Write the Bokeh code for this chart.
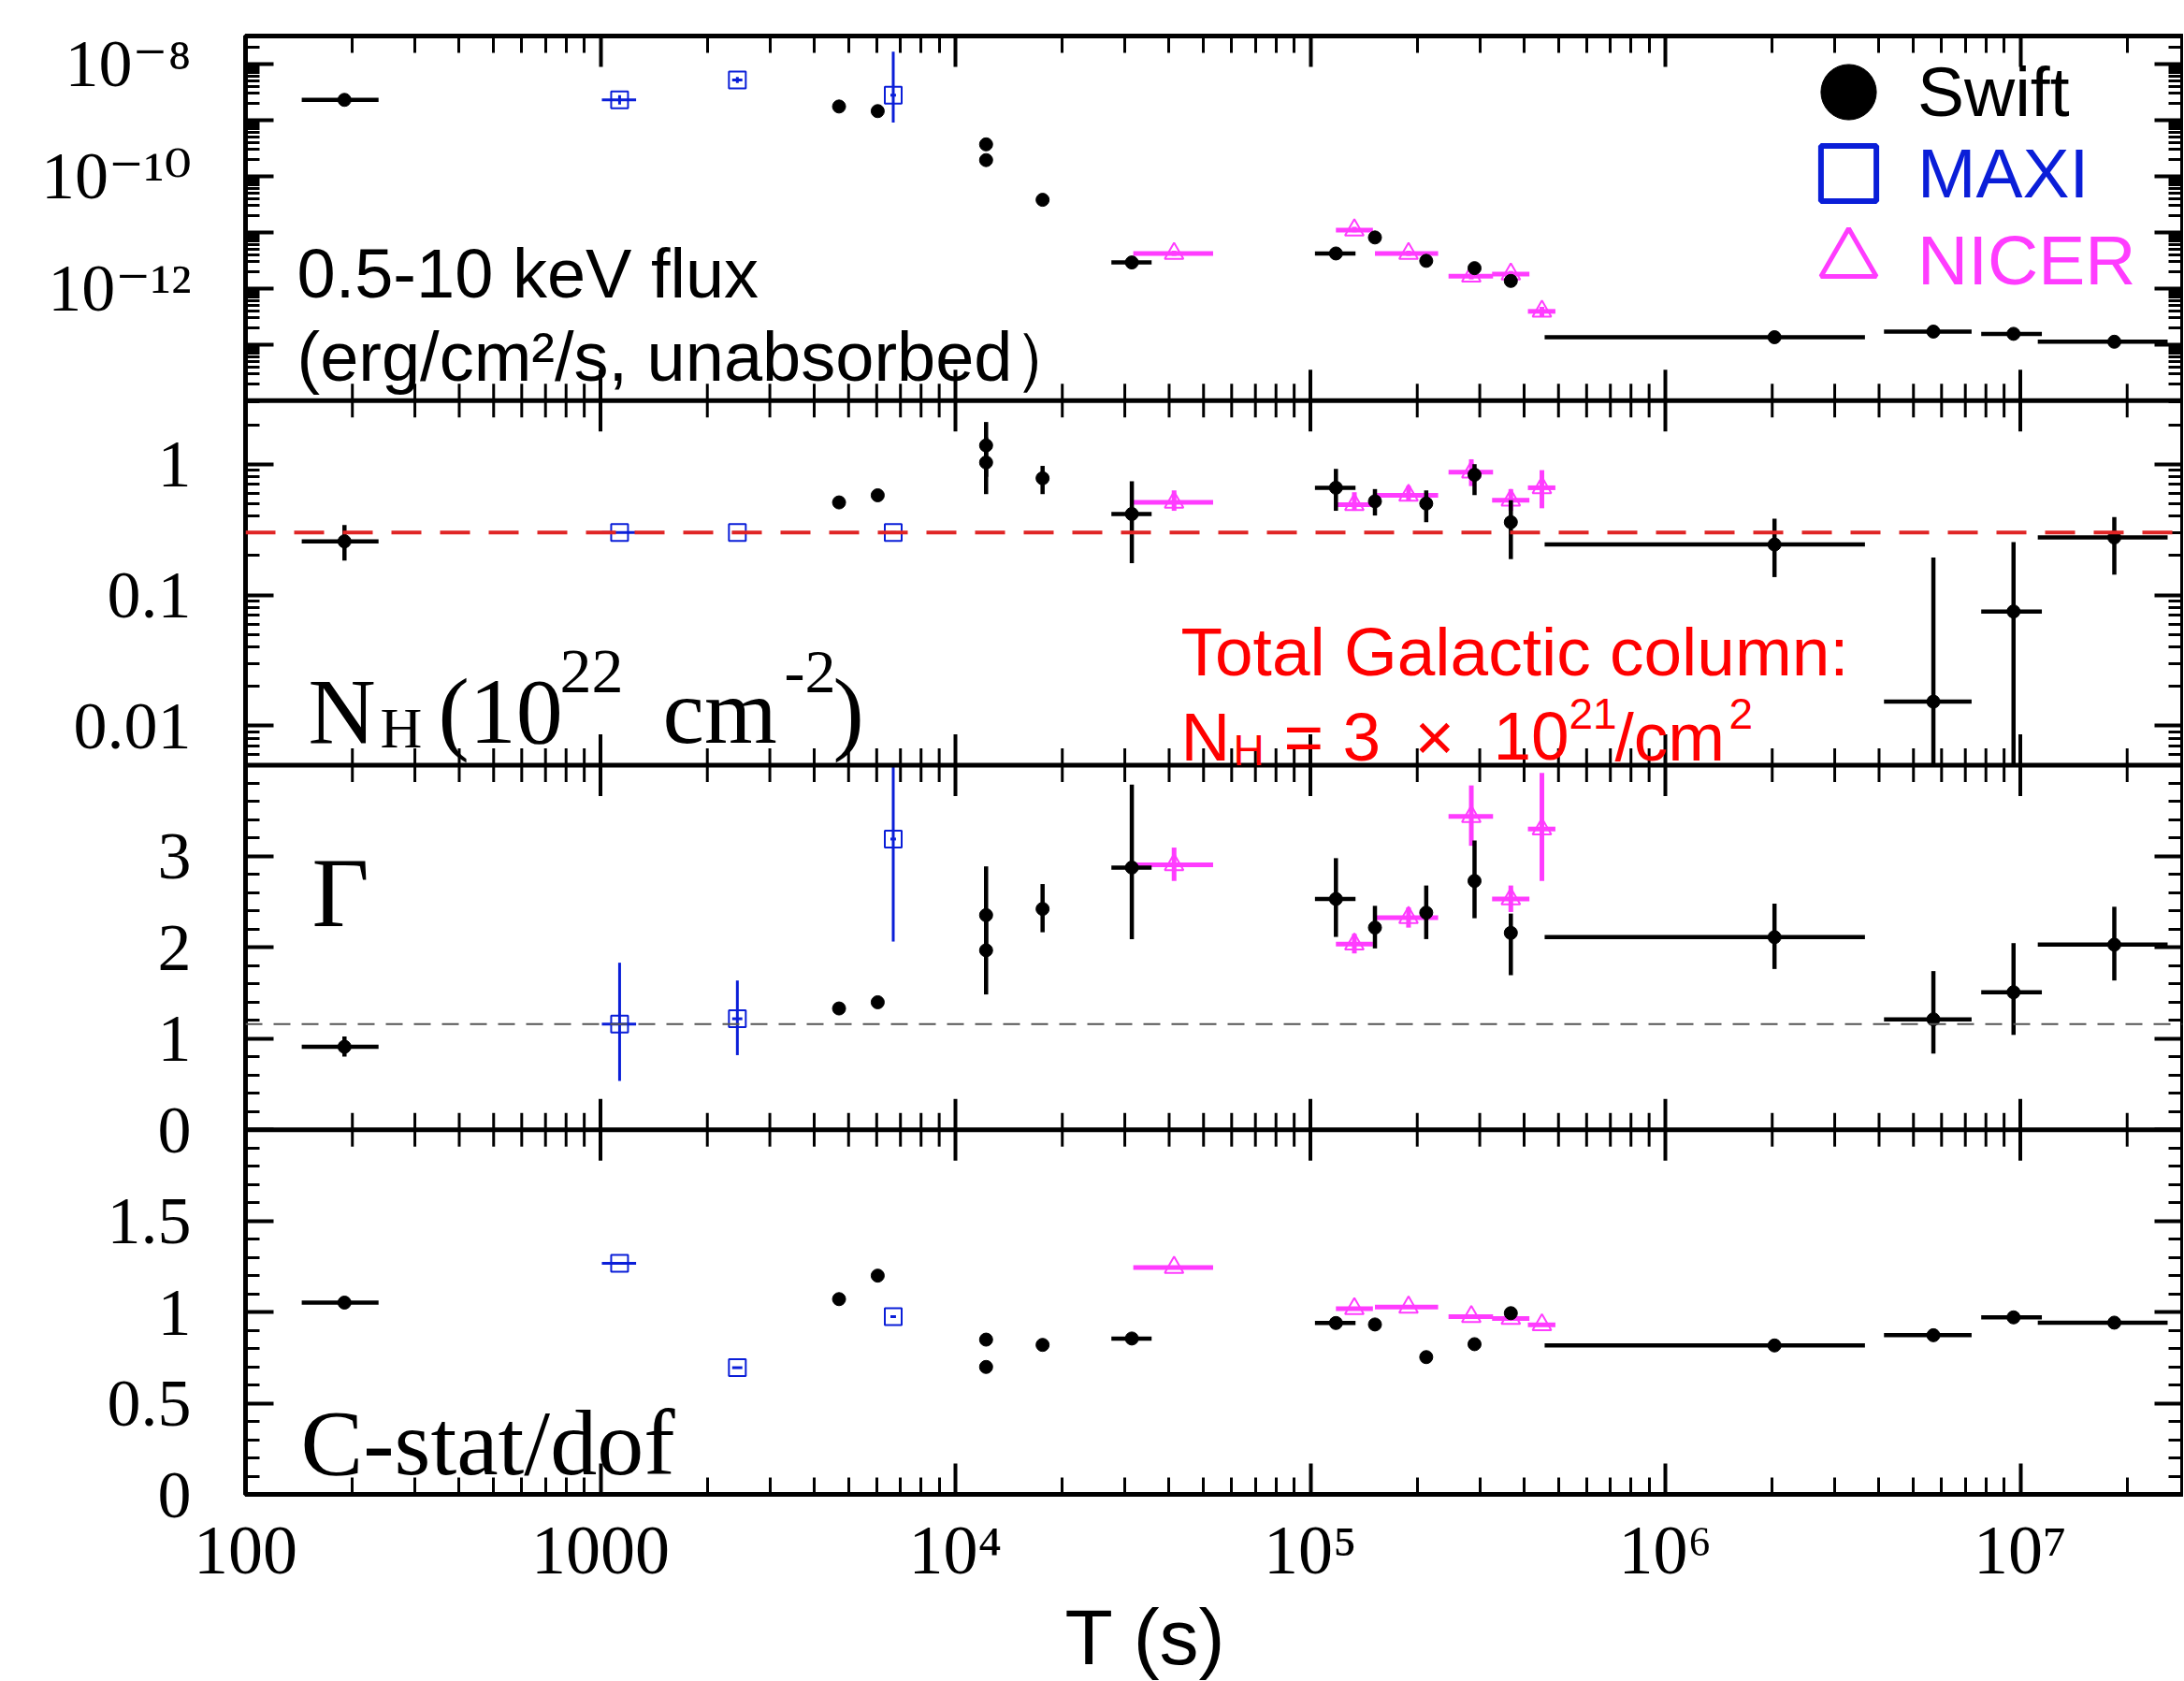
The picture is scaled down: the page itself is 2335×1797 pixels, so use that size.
import math
from bokeh.plotting import figure
from bokeh.models import (Range1d, LogScale, LinearScale, LogAxis, LinearAxis, FixedTicker,
                          CustomJSTickFormatter, Span, Label, Legend, LegendItem, Title)
from bokeh.embed import file_html
from bokeh.resources import INLINE

# ---------------- data ----------------
# Swift
sw_t = [190, 4700, 6040, 12200, 12200, 17600, 31400, 118000, 152000, 212000, 290000, 367000,
        2.03e6, 5.69e6, 9.57e6, 1.84e7]
sw_t_lo = [144, 4700, 6040, 12200, 12200, 17600, 27500, 103000, 152000, 212000, 290000, 367000,
           4.57e5, 4.13e6, 7.76e6, 1.12e7]
sw_t_hi = [237, 4700, 6040, 12200, 12200, 17600, 35700, 134000, 152000, 212000, 290000, 367000,
           3.65e6, 7.29e6, 1.15e7, 2.6e7]
sw_flux = [2.3e-9, 1.75e-9, 1.45e-9, 3.7e-10, 1.94e-10, 3.8e-11, 2.9e-12, 4.2e-12, 8.1e-12, 3.1e-12,
           2.3e-12, 1.36e-12, 1.35e-13, 1.7e-13, 1.55e-13, 1.12e-13]
sw_flux_lo = [2.1e-9, 1.6e-9, 1.3e-9, 3.3e-10, 1.7e-10, 3.3e-11, 2.5e-12, 3.6e-12, 7.0e-12, 2.6e-12,
              1.9e-12, 1.1e-12, 1.15e-13, 1.35e-13, 1.25e-13, 0.95e-13]
sw_flux_hi = [2.5e-9, 1.9e-9, 1.6e-9, 4.1e-10, 2.2e-10, 4.3e-11, 3.4e-12, 4.9e-12, 9.3e-12, 3.7e-12,
              2.8e-12, 1.7e-12, 1.6e-13, 2.15e-13, 1.95e-13, 1.3e-13]
sw_nh = [0.257, 0.51, 0.578, 1.39, 1.03, 0.78, 0.416, 0.66, 0.52, 0.50, 0.83, 0.36, 0.243, 0.0153, 0.0748, 0.275]
sw_nh_lo = [0.183, 0.48, 0.545, 0.80, 0.59, 0.59, 0.175, 0.44, 0.405, 0.36, 0.58, 0.188, 0.137, 0.001, 0.001, 0.143]
sw_nh_hi = [0.343, 0.54, 0.61, 2.1, 1.6, 0.97, 0.74, 0.92, 0.645, 0.63, 1.0, 0.53, 0.383, 0.193, 0.254, 0.394]
sw_gam = [0.911, 1.331, 1.399, 2.355, 1.969, 2.423, 2.877, 2.532, 2.218, 2.382, 2.73, 2.16, 2.113, 1.212, 1.509, 2.031]
sw_gam_lo = [0.802, 1.30, 1.37, 1.97, 1.485, 2.167, 2.092, 2.116, 1.99, 2.092, 2.321, 1.696, 1.764, 0.836, 1.041, 1.638]
sw_gam_hi = [1.024, 1.36, 1.43, 2.89, 2.35, 2.696, 3.788, 2.98, 2.457, 2.68, 3.174, 2.372, 2.481, 1.741, 2.048, 2.447]
sw_cstat = [1.052, 1.071, 1.20, 0.849, 0.699, 0.82, 0.855, 0.94, 0.932, 0.753, 0.824, 0.994, 0.817, 0.873, 0.971, 0.942]

# MAXI
mx_t = [1132, 2430, 6680]
mx_t_lo = [1009, 2350, 6560]
mx_t_hi = [1260, 2510, 6800]
mx_flux = [2.3e-9, 5.2e-9, 2.8e-9]
mx_flux_lo = [1.9e-9, 4.6e-9, 9.1e-10]
mx_flux_hi = [2.8e-9, 5.9e-9, 1.66e-8]
mx_nh = [0.3, 0.3, 0.3]
mx_gam = [1.16, 1.218, 3.19]
mx_gam_lo = [0.536, 0.819, 2.065]
mx_gam_hi = [1.833, 1.638, 4.5]
mx_cstat = [1.268, 0.695, 0.975]

# NICER
ni_t = [41300, 133000, 189000, 284000, 367000, 449000]
ni_t_lo = [31700, 118000, 152000, 245000, 325000, 410000]
ni_t_hi = [53200, 150000, 229000, 327000, 414000, 490000]
ni_flux = [4.2e-12, 1.1e-11, 4.2e-12, 1.66e-12, 1.8e-12, 3.9e-13]
ni_flux_lo = [3.8e-12, 1.0e-11, 3.8e-12, 1.45e-12, 1.6e-12, 3.2e-13]
ni_flux_hi = [4.7e-12, 1.25e-11, 4.7e-12, 1.9e-12, 2.05e-12, 4.7e-13]
ni_nh = [0.51, 0.49, 0.578, 0.87, 0.53, 0.66]
ni_nh_lo = [0.44, 0.44, 0.52, 0.68, 0.44, 0.46]
ni_nh_hi = [0.63, 0.61, 0.68, 1.09, 0.645, 0.9]
ni_gam = [2.908, 2.037, 2.328, 3.437, 2.532, 3.30]
ni_gam_lo = [2.73, 1.935, 2.218, 3.116, 2.389, 2.73]
ni_gam_hi = [3.096, 2.15, 2.44, 3.778, 2.68, 3.915]
ni_cstat = [1.245, 1.019, 1.027, 0.975, 0.965, 0.93]

NH_GALACTIC = 0.3
GAMMA_REF = 1.16

x_tick_vals = [1e2, 1e3, 1e4, 1e5, 1e6, 1e7]
x_tick_labels = ["100", "1000", "10⁴", "10⁵", "10⁶", "10⁷"]
flux_label_map = {-8: "10⁻⁸", -10: "10⁻¹⁰", -12: "10⁻¹²"}
nh_tick_vals = [0.01, 0.1, 1.0]
nh_tick_labels = ["0.01", "0.1", "1"]
gam_tick_vals = [0, 1, 2, 3]
cst_tick_vals = [0, 0.5, 1.0, 1.5]
cst_tick_labels = ["0", "0.5", "1", "1.5"]

# ---------------- layout ----------------
W, H = 2334, 1796
ML, MR, MT = 262, 1, 38
FH = 1560
MB = H - MT - FH
FW = W - ML - MR
PANEL = FH / 4.0
DEC_PX = 379.5
LOGX0 = 2.0
LOGX1 = LOGX0 + FW / DEC_PX
PAGE_LEFT = ML
PAGE_TOP = MT

FLUX_LO, FLUX_HI = 1e-14, 10 ** -7.5
NH_LO, NH_HI = 0.005, 3.06
G_LO, G_HI = 0.0, 4.0
C_LO, C_HI = 0.0, 2.0

SWIFT_C = "black"
MAXI_C = "#0A1ED8"
NICER_C = "#FF3CFF"
RED_C = "#FF0000"
SERIF = "Liberation Serif, DejaVu Serif, serif"
SANS = "Liberation Sans, DejaVu Sans, sans-serif"


def ext_range(lo, hi, k, log):
    a, b = (math.log10(lo), math.log10(hi)) if log else (lo, hi)
    s = b - a
    st, en = a - k * s, b + (3 - k) * s
    if log:
        return Range1d(10 ** st, 10 ** en)
    return Range1d(st, en)


def u_of(v, lo, hi, k, log):
    if log:
        return k + (math.log10(v) - math.log10(lo)) / (math.log10(hi) - math.log10(lo))
    return k + (v - lo) / (hi - lo)


def clip(vals, lo, hi):
    return [min(max(v, lo), hi) for v in vals]


def xd(px):
    return 10 ** (LOGX0 + (px - PAGE_LEFT) / DEC_PX)


def ud(py):
    return 4 - (py - PAGE_TOP) / PANEL


p = figure(width=W, height=H, x_axis_type="log",
           x_range=Range1d(10 ** LOGX0, 10 ** LOGX1), y_range=Range1d(0, 4),
           output_backend="svg", toolbar_location=None,
           min_border_left=ML, min_border_right=MR, min_border_top=MT, min_border_bottom=MB)
p.background_fill_color = "white"
p.border_fill_color = "white"
p.xgrid.visible = False
p.ygrid.visible = False
p.outline_line_color = "black"
p.outline_line_width = 5

p.extra_y_ranges = {
    "flux": ext_range(FLUX_LO, FLUX_HI, 3, True),
    "nh": ext_range(NH_LO, NH_HI, 2, True),
    "gam": ext_range(G_LO, G_HI, 1, False),
    "cst": ext_range(C_LO, C_HI, 0, False),
}
p.extra_y_scales = {"flux": LogScale(), "nh": LogScale(), "gam": LinearScale(), "cst": LinearScale()}

# ---------------- ticks ----------------
x_minor = [k * 10 ** n for n in range(2, 8) for k in range(2, 10) if k * 10 ** n < 10 ** LOGX1]
xticker = FixedTicker(ticks=x_tick_vals, minor_ticks=x_minor)

y_major, y_labels, y_minor = [], [], []
for d in range(-13, -7):
    y_major.append(u_of(10.0 ** d, FLUX_LO, FLUX_HI, 3, True))
    y_labels.append(flux_label_map.get(d, ""))
for n in range(-14, -7):
    for k in range(2, 10):
        v = k * 10.0 ** n
        if FLUX_LO < v < FLUX_HI:
            y_minor.append(u_of(v, FLUX_LO, FLUX_HI, 3, True))
for v, lab in zip(nh_tick_vals, nh_tick_labels):
    y_major.append(u_of(v, NH_LO, NH_HI, 2, True))
    y_labels.append(lab)
for n in range(-3, 1):
    for k in range(2, 10):
        v = k * 10.0 ** n
        if NH_LO < v < NH_HI:
            y_minor.append(u_of(v, NH_LO, NH_HI, 2, True))
for v in gam_tick_vals:
    y_major.append(u_of(v, G_LO, G_HI, 1, False))
    y_labels.append(str(v))
for i in range(1, 20):
    if i % 5:
        y_minor.append(u_of(i * 0.2, G_LO, G_HI, 1, False))
for v, lab in zip(cst_tick_vals, cst_tick_labels):
    y_major.append(u_of(v, C_LO, C_HI, 0, False))
    y_labels.append(lab)
for i in range(1, 20):
    if i % 5:
        y_minor.append(u_of(i * 0.1, C_LO, C_HI, 0, False))

yticker = FixedTicker(ticks=y_major, minor_ticks=y_minor)
yfmt = CustomJSTickFormatter(args=dict(ts=y_major, ls=y_labels), code="""
for (let i = 0; i < ts.length; i++) { if (Math.abs(ts[i] - tick) < 1e-7) return ls[i]; }
return "";
""")
xfmt = CustomJSTickFormatter(args=dict(ts=x_tick_vals, ls=x_tick_labels), code="""
for (let i = 0; i < ts.length; i++) { if (Math.abs(Math.log10(ts[i]) - Math.log10(tick)) < 1e-6) return ls[i]; }
return "";
""")
blank = CustomJSTickFormatter(code='return "";')


def style_axis(ax, maj_len, min_len):
    ax.axis_line_width = 5
    ax.axis_line_color = "black"
    ax.major_tick_in = maj_len
    ax.major_tick_out = 0
    ax.minor_tick_in = min_len
    ax.minor_tick_out = 0
    ax.major_tick_line_width = 4
    ax.minor_tick_line_width = 3
    ax.major_tick_line_color = "black"
    ax.minor_tick_line_color = "black"


xa = p.xaxis[0]
xa.ticker = xticker
xa.formatter = xfmt
style_axis(xa, 33, 18)
xa.major_label_text_font = SERIF
xa.major_label_text_font_size = "74px"
xa.major_label_text_color = "black"
xa.major_label_standoff = 18

ya = p.yaxis[0]
ya.ticker = yticker
ya.formatter = yfmt
style_axis(ya, 30, 15)
ya.major_label_text_font = SERIF
ya.major_label_text_font_size = "72px"
ya.major_label_text_color = "black"
ya.major_label_standoff = 58

top_ax = LogAxis(ticker=xticker, formatter=blank, major_label_text_font_size="0px", major_label_standoff=0)
style_axis(top_ax, 33, 18)
p.add_layout(top_ax, "above")
right_ax = LinearAxis(ticker=yticker, formatter=blank, major_label_text_font_size="0px", major_label_standoff=0)
style_axis(right_ax, 30, 15)
p.add_layout(right_ax, "right")

# x-axis title
p.add_layout(Title(text="T (s)", align="left", offset=1138 - PAGE_LEFT, standoff=0,
                   text_font=SANS, text_font_size="84px", text_font_style="normal",
                   text_color="black"), "below")

# panel separators with inward x ticks on both sides
for ub in (1, 2, 3):
    p.add_layout(Span(location=ub, dimension="width", line_color="black", line_width=5))
    lmaj, lmin = 33 / PANEL, 18 / PANEL
    p.segment(x0=x_tick_vals, x1=x_tick_vals, y0=[ub - lmaj] * len(x_tick_vals),
              y1=[ub + lmaj] * len(x_tick_vals), line_color="black", line_width=4)
    p.segment(x0=x_minor, x1=x_minor, y0=[ub - lmin] * len(x_minor),
              y1=[ub + lmin] * len(x_minor), line_color="black", line_width=3)

# reference lines
p.add_layout(Span(location=NH_GALACTIC, dimension="width", y_range_name="nh",
                  line_color="#E02525", line_width=4, line_dash="32 20"))
p.add_layout(Span(location=GAMMA_REF, dimension="width", y_range_name="gam",
                  line_color="#555555", line_width=2, line_dash="18 12"))


def draw(t, tlo, thi, y, ylo, yhi, rname, lo, hi, color, lw, marker, size, filled):
    y = clip(y, lo, hi)
    p.segment(x0=tlo, x1=thi, y0=y, y1=y, line_color=color, line_width=lw, y_range_name=rname)
    if ylo is not None:
        p.segment(x0=t, x1=t, y0=clip(ylo, lo, hi), y1=clip(yhi, lo, hi),
                  line_color=color, line_width=lw, y_range_name=rname)
    return p.scatter(x=t, y=y, marker=marker, size=size,
                     fill_color=color if filled else None, line_color=color,
                     line_width=1 if filled else 2, y_range_name=rname)


panels = [
    ("flux", FLUX_LO, FLUX_HI,
     (mx_flux, mx_flux_lo, mx_flux_hi), (ni_flux, ni_flux_lo, ni_flux_hi), (sw_flux, sw_flux_lo, sw_flux_hi)),
    ("nh", NH_LO, NH_HI,
     (mx_nh, None, None), (ni_nh, ni_nh_lo, ni_nh_hi), (sw_nh, sw_nh_lo, sw_nh_hi)),
    ("gam", G_LO, G_HI,
     (mx_gam, mx_gam_lo, mx_gam_hi), (ni_gam, ni_gam_lo, ni_gam_hi), (sw_gam, sw_gam_lo, sw_gam_hi)),
    ("cst", C_LO, C_HI,
     (mx_cstat, None, None), (ni_cstat, None, None), (sw_cstat, None, None)),
]
for rname, lo, hi, mx, ni, sw in panels:
    draw(mx_t, mx_t_lo, mx_t_hi, mx[0], mx[1], mx[2], rname, lo, hi, MAXI_C, 3, "square", 18, False)
    draw(ni_t, ni_t_lo, ni_t_hi, ni[0], ni[1], ni[2], rname, lo, hi, NICER_C, 5, "triangle", 20, False)
    draw(sw_t, sw_t_lo, sw_t_hi, sw[0], sw[1], sw[2], rname, lo, hi, SWIFT_C, 4.5, "circle", 14, True)

# ---------------- legend (hidden renderers carry the legend glyph styles) ----------------
leg_sw = p.scatter(x=sw_t, y=sw_flux, y_range_name="flux", marker="circle",
                   fill_color=SWIFT_C, line_color=SWIFT_C, visible=False)
leg_mx = p.scatter(x=mx_t, y=mx_flux, y_range_name="flux", marker="square",
                   fill_color=None, line_color=MAXI_C, line_width=6, visible=False)
leg_ni = p.scatter(x=ni_t, y=ni_flux, y_range_name="flux", marker="triangle",
                   fill_color=None, line_color=NICER_C, line_width=5, visible=False)
for name, rend, col, cy in (("Swift", leg_sw, SWIFT_C, 99), ("MAXI", leg_mx, MAXI_C, 186),
                            ("NICER", leg_ni, NICER_C, 279)):
    g = 148
    lx = 1976 - PAGE_LEFT - g / 2
    ly = (PAGE_TOP + FH) - cy - g / 2
    leg = Legend(items=[LegendItem(label=name, renderers=[rend])], location=(lx, ly),
                 glyph_width=g, glyph_height=g, label_standoff=-13, padding=0, margin=0, spacing=0,
                 border_line_alpha=0, background_fill_alpha=0, inactive_fill_alpha=0,
                 label_text_font=SANS, label_text_font_size="75px",
                 label_text_color=col)
    p.add_layout(leg)

# ---------------- texts ----------------
texts = [
    ("0.5-10 keV flux", 317, 292, SANS, 74, "black"),
    ("(erg/cm²/s, unabsorbed）", 317, 381, SANS, 74, "black"),
    ("N", 329, 760, SERIF, 100, "black"),
    ("H", 406, 778, SERIF, 62, "black"),
    ("(10", 468, 760, SERIF, 100, "black"),
    ("22", 598, 718, SERIF, 68, "black"),
    ("cm", 708, 760, SERIF, 100, "black"),
    ("-2", 838, 718, SERIF, 66, "black"),
    (")", 890, 760, SERIF, 100, "black"),
    ("Total Galactic column:", 1262, 696, SANS, 73, RED_C),
    ("N", 1262, 787, SANS, 73, RED_C),
    ("H", 1318, 802, SANS, 46, RED_C),
    ("= 3", 1372, 787, SANS, 73, RED_C),
    ("×", 1512, 787, SANS, 73, RED_C),
    ("10", 1596, 787, SANS, 73, RED_C),
    ("21", 1677, 763, SANS, 46, RED_C),
    ("/cm", 1726, 787, SANS, 73, RED_C),
    ("2", 1848, 763, SANS, 46, RED_C),
    ("Γ", 333, 955, SERIF, 106, "black"),
    ("C-stat/dof", 321, 1543, SERIF, 100, "black"),
]
for txt, px, py, font, fs, col in texts:
    p.add_layout(Label(x=xd(px), y=ud(py), text=txt, text_font=font, text_font_size=f"{fs}px",
                       text_color=col, text_align="left", text_baseline="alphabetic"))

open("out.html", "w").write(file_html(p, INLINE))
